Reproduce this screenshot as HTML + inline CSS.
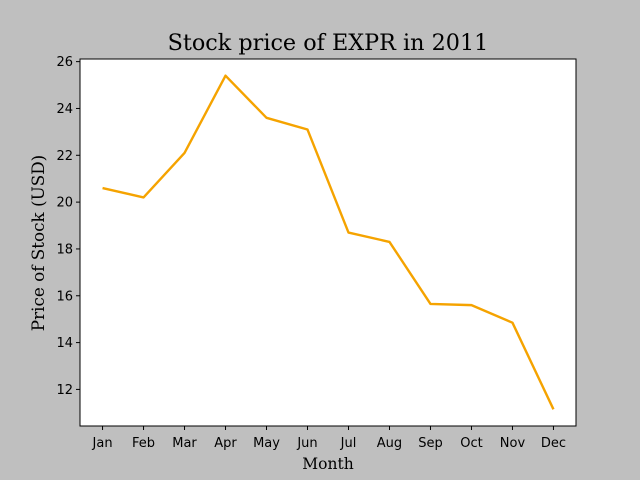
<!DOCTYPE html>
<html><head><meta charset="utf-8"><style>
body{margin:0;background:#bfbfbf;}
svg{display:block;}
.tick{font-family:"DejaVu Sans","Liberation Sans",sans-serif;font-size:13px;fill:#000;}
.lab{font-family:"DejaVu Serif","Liberation Serif",serif;font-size:15.5px;fill:#000;}
.ylab{font-family:"DejaVu Serif","Liberation Serif",serif;font-size:16.8px;fill:#000;}
.title{font-family:"DejaVu Serif","Liberation Serif",serif;font-size:22.3px;fill:#000;}
</style></head><body>
<svg id="chart" width="640" height="480">
<rect x="0" y="0" width="640" height="480" fill="#bfbfbf"/>
<rect x="80" y="59" width="496" height="367" fill="#fff" stroke="#000" stroke-width="1"/>
<text class="title" x="328" y="50" text-anchor="middle">Stock price of EXPR in 2011</text>
<text class="lab" x="328" y="469" text-anchor="middle">Month</text>
<text class="ylab" transform="translate(44,243) rotate(-90)" text-anchor="middle">Price of Stock (USD)</text>
<g id="axes"></g>
</svg>
<script>
const months=["Jan","Feb","Mar","Apr","May","Jun","Jul","Aug","Sep","Oct","Nov","Dec"];
const prices=[20.6,20.2,22.1,25.4,23.6,23.1,18.7,18.3,15.65,15.6,14.85,11.15];
const yTicks=[12,14,16,18,20,22,24,26];
const NS="http://www.w3.org/2000/svg";
const L=80,R=576,T=59,B=426;
const mn=Math.min(...prices),mx=Math.max(...prices),pad=(mx-mn)*0.05;
const y0=mn-pad,y1=mx+pad;
const xs=i=>L+(i+0.55)/(months.length-1+1.1)*(R-L);
const ys=v=>B-(v-y0)/(y1-y0)*(B-T);
const g=document.getElementById('axes');
function mk(t,a){const e=document.createElementNS(NS,t);for(const k in a)e.setAttribute(k,a[k]);g.appendChild(e);return e;}
months.forEach((m,i)=>{
 const x=xs(i);
 const tk=mk('line',{x1:x,x2:x,y1:B,y2:B+4,stroke:'#000'});
 
 
 const t=mk('text',{x:x,y:B+21,'text-anchor':'middle',class:'tick'});
 t.textContent=m;
 
 
});
yTicks.forEach(v=>{
 const y=ys(v);
 const tk=mk('line',{x1:L-4,x2:L,y1:y,y2:y,stroke:'#000'});
 
 
 const t=mk('text',{x:L-7,y:y+4.5,'text-anchor':'end',class:'tick'});
 t.textContent=v;
 
 
});
const p=mk('polyline',{points:prices.map((v,i)=>xs(i)+','+ys(v)).join(' '),fill:'none',stroke:'#f5a300','stroke-width':2.4,'stroke-linejoin':'round'});


</script>
</body></html>
